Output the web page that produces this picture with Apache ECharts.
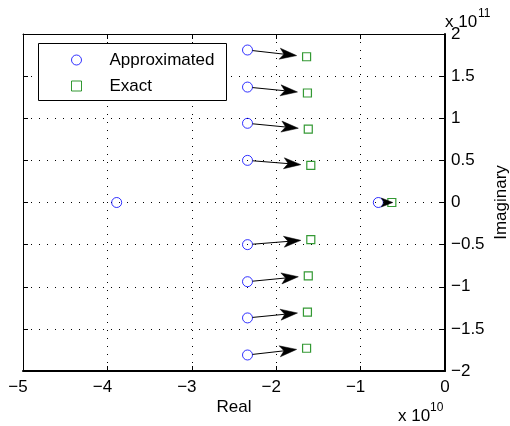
<!DOCTYPE html>
<html>
<head>
<meta charset="utf-8">
<script src="https://cdn.jsdelivr.net/npm/echarts@6/dist/echarts.min.js"></script>
<style>
    html, body {margin: 0; padding: 0; background: #fff;}
    #pole-chart {width: 510px; height: 426px;}
</style>
</head>
<body>
<div id="pole-chart"></div>
<script>
// poles (real in 1e10, imag in 1e11)
const approxReal = [-3.89e10, -0.79e10, -2.34e10, -2.34e10, -2.34e10, -2.34e10, -2.34e10, -2.34e10, -2.34e10, -2.34e10];
const approxImag = [0, 0, 0.50e11, -0.50e11, 0.94e11, -0.94e11, 1.37e11, -1.37e11, 1.81e11, -1.81e11];
const exactReal = [-0.63e10, -1.59e10, -1.59e10, -1.62e10, -1.62e10, -1.63e10, -1.63e10, -1.64e10, -1.64e10];
const exactImag = [0, 0.44e11, -0.44e11, 0.87e11, -0.87e11, 1.30e11, -1.30e11, 1.73e11, -1.73e11];
// arrow i goes from approx pole arrowFrom[i] to exact pole arrowTo[i]
const arrowFrom = [1, 2, 3, 4, 5, 6, 7, 8, 9];
const arrowTo = [0, 1, 2, 3, 4, 5, 6, 7, 8];
const xTicks = {min: -5e10, max: 0, step: 1e10};
const yTicks = {min: -2e11, max: 2e11, step: 0.5e11};

const FONT = 'Liberation Sans, Arial, Helvetica, sans-serif';
const MINUS = '\u2212';

const approxData = approxReal.map((x, i) => [x, approxImag[i]]);
const exactData = exactReal.map((x, i) => [x, exactImag[i]]);
const arrowData = arrowFrom.map((a, i) => [approxReal[a], approxImag[a], exactReal[arrowTo[i]], exactImag[arrowTo[i]]]);

const fmtX = (v) => {
    const n = Math.round(v / 1e10);
    return n < 0 ? MINUS + Math.abs(n) + '{h|' + MINUS + '}' : String(n);
};
const fmtY = (v) => {
    const n = Math.round(v / 1e10) / 10;
    return n < 0 ? MINUS + Math.abs(n) : String(n);
};

const tickText = {fontSize: 17, color: '#000', fontFamily: FONT};
const gridDots = {show: true, lineStyle: {color: '#000', width: 1, type: [1, 7]}};

const drawArrow = (params, api) => {
    const p1 = api.coord([api.value(0), api.value(1)]);
    const p2 = api.coord([api.value(2), api.value(3)]);
    const dx = p2[0] - p1[0], dy = p2[1] - p1[1];
    const d = Math.sqrt(dx * dx + dy * dy);
    const ux = dx / d, uy = dy / d, nx = -uy, ny = ux;
    const back = d > 30 ? 10 : -1;
    const tip = [p2[0] - back * ux, p2[1] - back * uy];
    const hl = Math.min(17, d - back - 3);
    const notch = hl * 0.75;
    const wing = hl > 14 ? 5.5 : 4.5;
    const start = [p1[0] + 5 * ux, p1[1] + 5 * uy];
    return {
        type: 'group',
        children: [{
            type: 'line',
            shape: {x1: start[0], y1: start[1], x2: tip[0] - notch * ux, y2: tip[1] - notch * uy},
            style: {stroke: '#000', lineWidth: 1}
        }, {
            type: 'polygon',
            shape: {points: [
                tip,
                [tip[0] - hl * ux + wing * nx, tip[1] - hl * uy + wing * ny],
                [tip[0] - notch * ux, tip[1] - notch * uy],
                [tip[0] - hl * ux - wing * nx, tip[1] - hl * uy - wing * ny]
            ]},
            style: {fill: '#000', stroke: '#000', lineWidth: 0.5}
        }]
    };
};

const options = {
    animation: false,
    backgroundColor: '#fff',
    textStyle: {fontFamily: FONT},
    grid: {left: 23, right: 65, top: 34, bottom: 55, containLabel: false, outerBoundsMode: 'none'},
    legend: {
        orient: 'vertical',
        left: 71,
        top: 51,
        padding: 0,
        itemWidth: 10,
        itemHeight: 10,
        itemGap: 8,
        z: 100,
        itemStyle: {borderWidth: 1},
        textStyle: {fontSize: 17, lineHeight: 18, color: '#000', fontFamily: FONT, padding: [0, 0, 0, 23]},
        data: ['Approximated', 'Exact']
    },
    xAxis: [{
        type: 'value',
        position: 'bottom',
        min: xTicks.min, max: xTicks.max, interval: xTicks.step,
        axisLine: {onZero: false, lineStyle: {color: '#000', width: 2}},
        axisTick: {inside: true, length: 5, lineStyle: {color: '#000'}},
        axisLabel: Object.assign({margin: 8, formatter: fmtX, rich: {h: {color: 'transparent', fontSize: 17, fontFamily: FONT}}}, tickText),
        splitLine: gridDots,
        name: 'Real',
        nameLocation: 'middle',
        nameGap: 28,
        nameMoveOverlap: false,
        nameTextStyle: tickText
    }, {
        type: 'value',
        position: 'top',
        min: xTicks.min, max: xTicks.max, interval: xTicks.step,
        axisLine: {onZero: false, lineStyle: {color: '#000', width: 1}},
        axisTick: {inside: true, length: 5, lineStyle: {color: '#000'}},
        axisLabel: {show: false},
        splitLine: {show: false}
    }],
    yAxis: [{
        type: 'value',
        position: 'right',
        min: yTicks.min, max: yTicks.max, interval: yTicks.step,
        axisLine: {onZero: false, lineStyle: {color: '#000', width: 2}},
        axisTick: {inside: true, length: 5, lineStyle: {color: '#000'}},
        axisLabel: Object.assign({margin: 6, formatter: fmtY}, tickText),
        splitLine: gridDots,
        name: 'Imaginary',
        nameLocation: 'middle',
        nameRotate: 90,
        nameGap: 48,
        nameMoveOverlap: false,
        nameTextStyle: tickText
    }, {
        type: 'value',
        position: 'left',
        min: yTicks.min, max: yTicks.max, interval: yTicks.step,
        axisLine: {onZero: false, lineStyle: {color: '#000', width: 1}},
        axisTick: {inside: true, length: 5, lineStyle: {color: '#000'}},
        axisLabel: {show: false},
        splitLine: {show: false}
    }],
    graphic: [{
        type: 'rect',
        z: 90,
        shape: {x: 38.5, y: 43.5, width: 188, height: 57},
        style: {fill: '#fff', stroke: '#000', lineWidth: 1}
    }, {
        type: 'text', left: 445, top: 14,
        style: {text: 'x 10', fontSize: 17, fill: '#000', fontFamily: FONT}
    }, {
        type: 'text', left: 478, top: 8,
        style: {text: '11', fontSize: 12, fill: '#000', fontFamily: FONT}
    }, {
        type: 'text', left: 398, top: 408,
        style: {text: 'x 10', fontSize: 17, fill: '#000', fontFamily: FONT}
    }, {
        type: 'text', left: 430, top: 402,
        style: {text: '10', fontSize: 12, fill: '#000', fontFamily: FONT}
    }],
    series: [{
        name: 'Approximated',
        type: 'scatter',
        symbol: 'circle',
        symbolSize: 10,
        itemStyle: {color: 'rgba(0,0,0,0)', borderColor: '#0000ff', borderWidth: 1},
        data: approxData,
        z: 3
    }, {
        name: 'Exact',
        type: 'scatter',
        symbol: 'rect',
        symbolSize: 8,
        itemStyle: {color: 'rgba(0,0,0,0)', borderColor: '#008000', borderWidth: 1.2},
        data: exactData,
        z: 3
    }, {
        name: 'arrows',
        type: 'custom',
        renderItem: drawArrow,
        encode: {x: [0, 2], y: [1, 3]},
        data: arrowData,
        silent: true,
        z: 4
    }]
};

const chart = echarts.init(document.getElementById('pole-chart'));
chart.setOption(options);
</script>
</body>
</html>
